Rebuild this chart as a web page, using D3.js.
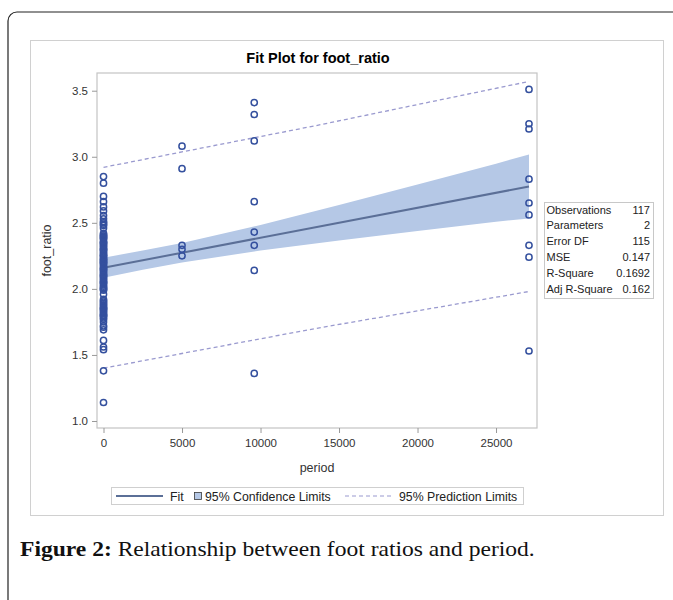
<!DOCTYPE html>
<html>
<head>
<meta charset="utf-8">
<script src="https://cdn.jsdelivr.net/npm/d3@7"></script>
<style>
  body { margin: 0; background: #fff; }
  svg { display: block; }
</style>
</head>
<body>
<svg id="chart"></svg>
<script>
// observations
var period0 = [2.85, 2.80, 2.70, 2.66, 2.62, 2.59, 2.555, 2.53, 2.51, 2.50, 2.49, 2.48, 2.46,
  2.42, 2.41, 2.40, 2.40, 2.39, 2.38, 2.38, 2.36, 2.35, 2.35, 2.34, 2.33, 2.32, 2.31, 2.30, 2.30,
  2.29, 2.28, 2.27, 2.26, 2.25, 2.25, 2.24, 2.23, 2.22, 2.22, 2.21, 2.20, 2.20, 2.19, 2.18, 2.17,
  2.16, 2.15, 2.15, 2.14, 2.13, 2.12, 2.11, 2.10, 2.10, 2.09, 2.08, 2.07, 2.06, 2.05, 2.05, 2.04,
  2.03, 2.02, 2.01, 2.00, 2.00, 1.99, 1.96, 1.92, 1.91, 1.90, 1.89, 1.88, 1.87, 1.86, 1.85, 1.85,
  1.84, 1.83, 1.82, 1.81, 1.80, 1.80, 1.79, 1.78, 1.77, 1.75, 1.72, 1.71, 1.69, 1.61, 1.56, 1.54,
  1.38, 1.14];
var period5000 = [3.08, 2.91, 2.33, 2.30, 2.25];
var period9600 = [3.41, 3.32, 3.12, 2.66, 2.43, 2.33, 2.14, 1.36];
var period27100 = [3.51, 3.25, 3.21, 2.83, 2.65, 2.56, 2.33, 2.24, 1.53];
var groupX = [0, 5000, 9600, 27100];
var groupY = [period0, period5000, period9600, period27100];

// fit and limits
var fitX = [0, 27100];
var fitY = [2.16, 2.775];
var clX = [0, 2500, 5000, 10000, 15000, 20000, 25000, 27100];
var clUpper = [2.236, 2.290, 2.347, 2.484, 2.635, 2.790, 2.948, 3.017];
var clLower = [2.084, 2.145, 2.200, 2.290, 2.366, 2.438, 2.508, 2.533];
var plX = [0, 13500, 27100];
var plUpper = [2.92, 3.235, 3.57];
var plLower = [1.40, 1.70, 1.98];

var xTicks = [0, 5000, 10000, 15000, 20000, 25000];
var yTicks = [1.0, 1.5, 2.0, 2.5, 3.0, 3.5];

var statLabels = ["Observations", "Parameters", "Error DF", "MSE", "R-Square", "Adj R-Square"];
var statValues = ["117", "2", "115", "0.147", "0.1692", "0.162"];

var W = 673, H = 600;
var font = "'Liberation Sans', Arial, sans-serif";
var markColor = "#34509e";

var svg = d3.select("#chart").attr("width", W).attr("height", H);

// outer rounded border (runs off the right and bottom)
svg.append("rect")
  .attr("x", 8).attr("y", 12).attr("width", 700).attr("height", 640)
  .attr("rx", 9)
  .attr("fill", "none").attr("stroke", "#222").attr("stroke-width", 1.2);

// graph frame
svg.append("rect")
  .attr("x", 30.5).attr("y", 40.5).attr("width", 633).attr("height", 475)
  .attr("fill", "#fff").attr("stroke", "#d0d0d0");

var pLeft = 97, pRight = 537, pTop = 73, pBottom = 428;

var x = d3.scaleLinear().domain([-415, 27610]).range([pLeft, pRight]);
var y = d3.scaleLinear().domain([0.947, 3.634]).range([pBottom, pTop]);

svg.append("text")
  .attr("x", (pLeft + pRight) / 2 + 1).attr("y", 63)
  .attr("text-anchor", "middle")
  .style("font-family", font).style("font-size", "14.5px").style("font-weight", "bold")
  .text("Fit Plot for foot_ratio");

// confidence band
var band = d3.area()
  .x(function(d, i) { return x(clX[i]); })
  .y0(function(d, i) { return y(clLower[i]); })
  .y1(function(d, i) { return y(clUpper[i]); });
svg.append("path").datum(clX)
  .attr("d", band)
  .attr("fill", "#b5c8e6");

// prediction limits
var plLine = function(arr) {
  return d3.line()
    .x(function(d, i) { return x(plX[i]); })
    .y(function(d, i) { return y(arr[i]); })(plX);
};
[plUpper, plLower].forEach(function(arr) {
  svg.append("path")
    .attr("d", plLine(arr))
    .attr("fill", "none").attr("stroke", "#9a9acf")
    .attr("stroke-width", 1.3).attr("stroke-dasharray", "4,3");
});

// fit line
svg.append("path")
  .attr("d", d3.line()
    .x(function(d, i) { return x(fitX[i]); })
    .y(function(d, i) { return y(fitY[i]); })(fitX))
  .attr("fill", "none").attr("stroke", "#5b6f97").attr("stroke-width", 2);

// points
var pts = [];
groupY.forEach(function(vals, g) {
  vals.forEach(function(v) { pts.push({ x: groupX[g], y: v }); });
});
svg.append("g").selectAll("circle")
  .data(pts)
  .enter()
  .append("circle")
  .attr("cx", function(d) { return x(d.x); })
  .attr("cy", function(d) { return y(d.y); })
  .attr("r", 3.1)
  .attr("fill", "none")
  .attr("stroke", markColor)
  .attr("stroke-width", 1.5);

// plot frame
svg.append("rect")
  .attr("x", pLeft).attr("y", pTop)
  .attr("width", pRight - pLeft).attr("height", pBottom - pTop)
  .attr("fill", "none").attr("stroke", "#c4c4c4").attr("stroke-width", 1.2);

// axes
var xAxis = svg.append("g")
  .attr("transform", "translate(0," + pBottom + ")")
  .call(d3.axisBottom(x).tickValues(xTicks).tickSize(5).tickPadding(6).tickFormat(d3.format("d")));
var yAxis = svg.append("g")
  .attr("transform", "translate(" + pLeft + ",0)")
  .call(d3.axisLeft(y).tickValues(yTicks).tickSize(5).tickPadding(4).tickFormat(d3.format(".1f")));
[xAxis, yAxis].forEach(function(a) {
  a.select(".domain").remove();
  a.selectAll(".tick line").attr("stroke", "#999");
  a.selectAll(".tick text").attr("fill", "#333")
    .style("font-family", font).style("font-size", "11.5px");
});

svg.append("text")
  .attr("x", (pLeft + pRight) / 2).attr("y", 472)
  .attr("text-anchor", "middle")
  .style("font-family", font).style("font-size", "12.5px").attr("fill", "#333")
  .text("period");

svg.append("text")
  .attr("transform", "translate(51," + (pTop + pBottom) / 2 + ") rotate(-90)")
  .attr("text-anchor", "middle")
  .style("font-family", font).style("font-size", "12.5px").attr("fill", "#333")
  .text("foot_ratio");

// statistics table
var sx = 544, sy = 202, rowH = 15.9;
svg.append("rect")
  .attr("x", sx + 0.5).attr("y", sy + 0.5).attr("width", 109).attr("height", 96)
  .attr("fill", "#fff").attr("stroke", "#c8c8c8");
statLabels.forEach(function(lab, i) {
  svg.append("text")
    .attr("x", sx + 2.5).attr("y", sy + 11.5 + i * rowH)
    .style("font-family", font).style("font-size", "11px").attr("fill", "#222")
    .text(lab);
  svg.append("text")
    .attr("x", sx + 106).attr("y", sy + 11.5 + i * rowH)
    .attr("text-anchor", "end")
    .style("font-family", font).style("font-size", "11px").attr("fill", "#222")
    .text(statValues[i]);
});

// legend
var ly = 496;
svg.append("rect")
  .attr("x", 111.5).attr("y", 487.5).attr("width", 412).attr("height", 17)
  .attr("fill", "#fff").attr("stroke", "#cfcfcf");
svg.append("line")
  .attr("x1", 116).attr("x2", 163).attr("y1", ly).attr("y2", ly)
  .attr("stroke", "#5b6f97").attr("stroke-width", 2);
svg.append("rect")
  .attr("x", 194.5).attr("y", ly - 3.5).attr("width", 7).attr("height", 7)
  .attr("fill", "#b5c8e6").attr("stroke", "#3a3a3a").attr("stroke-width", 0.8);
svg.append("line")
  .attr("x1", 345).attr("x2", 391).attr("y1", ly).attr("y2", ly)
  .attr("stroke", "#9a9acf").attr("stroke-width", 1.2).attr("stroke-dasharray", "4,3");
[["Fit", 170], ["95% Confidence Limits", 205], ["95% Prediction Limits", 399]].forEach(function(t) {
  svg.append("text")
    .attr("x", t[1]).attr("y", ly + 4.5)
    .style("font-family", font).style("font-size", "12.3px").attr("fill", "#222")
    .text(t[0]);
});

// caption, stretched so it spans the same width as in the figure
var cap = svg.append("text")
  .style("font-family", "'Liberation Serif', 'Times New Roman', serif")
  .style("font-size", "21px").attr("fill", "#111");
cap.append("tspan").style("font-weight", "bold").text("Figure 2:");
cap.append("tspan").text(" Relationship between foot ratios and period.");
var capW = cap.node().getComputedTextLength();
cap.attr("transform", "translate(20,556) scale(" + (515 / capW).toFixed(3) + ",1)");
</script>
</body>
</html>
